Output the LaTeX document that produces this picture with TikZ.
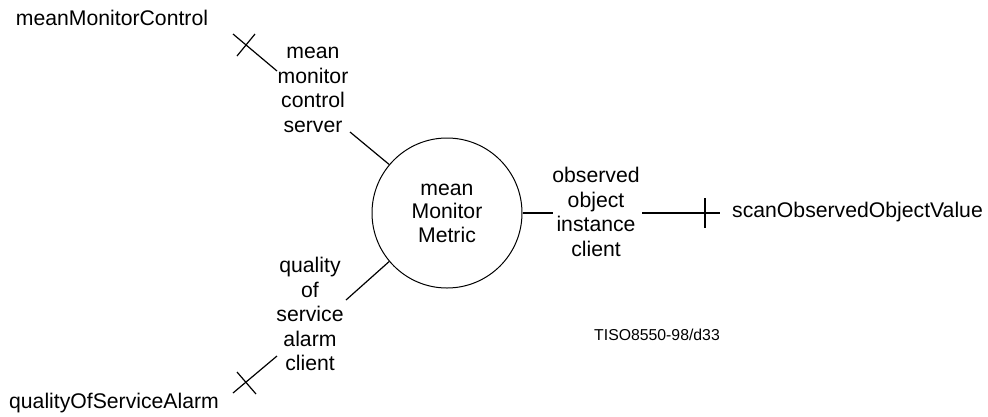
\documentclass[tikz,border=0pt]{standalone}
\usepackage{fontspec}
\setmainfont{Liberation Sans}
\begin{document}
\begin{tikzpicture}[x=1pt,y=-1pt,
  lbl/.style={inner sep=0pt, align=center, font=\fontsize{21.2}{24.5}\selectfont},
  small/.style={inner sep=0pt, font=\fontsize{15.8}{18}\selectfont},
  conn/.style={line width=1.2pt},
  tick/.style={line width=1.2pt}]
\useasboundingbox (0,0) rectangle (988,416);
% central object
\node[circle, draw, line width=1pt, minimum size=150pt, inner sep=0pt, align=center,
      font=\fontsize{21.2}{23.5}\selectfont] (M) at (447,213) {mean\\Monitor\\Metric};
% labels
\node[lbl] (mmc) at (112,18) {meanMonitorControl};
\node[lbl] (qos) at (114,403) {qualityOfServiceAlarm};
\node[lbl, anchor=west] (sov) at (732,212) {scanObservedObjectValue};
\node[lbl] (srv) at (313,90) {mean\\monitor\\control\\server};
\node[lbl] (cli) at (310,314) {quality\\of\\service\\alarm\\client};
\node[lbl] (obs) at (596,212) {observed\\object\\instance\\client};
\node[small] (tiso) at (657,335) {TISO8550-98/d33};
% connector end points
\coordinate (a1) at (350,132);
\coordinate (a2) at (277,71);
\coordinate (a3) at (233,34);
\coordinate (b1) at (346,300);
\coordinate (b2) at (277,356);
\coordinate (b3) at (233,393);
\coordinate (c1) at (553,213);
\coordinate (c2) at (642,213);
\coordinate (c3) at (720,213);
% connectors
\draw[conn] (M.140) -- (a1);
\draw[conn] (a2) -- (a3);
\draw[tick] (255,34) -- (237,56);
\draw[conn] (M.220) -- (b1);
\draw[conn] (b2) -- (b3);
\draw[tick] (237,372) -- (256,394);
\draw[conn] (M.east) -- (c1);
\draw[conn] (c2) -- (c3);
\draw[tick] (705,198) -- (705,228);
\end{tikzpicture}
\end{document}
